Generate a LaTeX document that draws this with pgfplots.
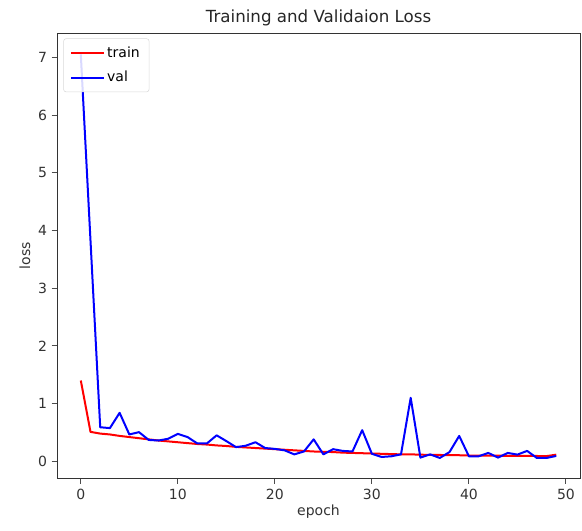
\documentclass[border=0pt]{standalone}
\usepackage{pgfplots}
\pgfplotsset{compat=1.18}
\usepackage{fontspec}
\setmainfont{DejaVu Sans}
\usetikzlibrary{calc}

\pgfplotstableread{
epoch train val
0  1.400 7.050
1  0.510 3.820
2  0.480 0.590
3  0.465 0.575
4  0.440 0.840
5  0.420 0.465
6  0.400 0.505
7  0.380 0.370
8  0.360 0.360
9  0.345 0.390
10 0.330 0.475
11 0.315 0.420
12 0.300 0.310
13 0.290 0.310
14 0.275 0.450
15 0.265 0.350
16 0.250 0.245
17 0.240 0.270
18 0.230 0.330
19 0.220 0.230
20 0.210 0.215
21 0.200 0.190
22 0.190 0.120
23 0.180 0.170
24 0.170 0.380
25 0.165 0.120
26 0.160 0.210
27 0.150 0.180
28 0.145 0.170
29 0.140 0.540
30 0.135 0.130
31 0.130 0.075
32 0.125 0.087
33 0.120 0.120
34 0.120 1.100
35 0.115 0.064
36 0.110 0.120
37 0.110 0.058
38 0.105 0.160
39 0.105 0.440
40 0.100 0.087
41 0.100 0.087
42 0.098 0.145
43 0.097 0.064
44 0.095 0.145
45 0.094 0.116
46 0.093 0.180
47 0.092 0.058
48 0.090 0.058
49 0.115 0.093
}\losstable

\begin{document}
\begin{tikzpicture}
\begin{axis}[
    scale only axis,
    width=392pt,
    height=334pt,
    xmin=-2.45, xmax=51.45,
    ymin=-0.3, ymax=7.42,
    xtick={0,10,20,30,40,50},
    ytick={0,1,2,3,4,5,6,7},
    tick align=outside,
    tick pos=left,
    major tick length=4pt,
    tick style={black!70, line width=0.7pt},
    axis line style={black!80, line width=0.7pt},
    tick label style={font=\fontsize{10.5}{12}\selectfont, text=black!80},
    label style={font=\fontsize{10.5}{12}\selectfont, text=black!80},
    /pgf/number format/assume math mode=true,
    title={Training and Validaion Loss},
    title style={font=\fontsize{12.5}{14}\selectfont, text=black!85, yshift=-4pt},
    xlabel={epoch},
    ylabel={loss},
    xlabel style={yshift=3pt},
    ylabel style={yshift=-1pt},
    legend style={font=\fontsize{10.5}{12}\selectfont, draw=black!15, rounded corners=2pt,
        fill=white, fill opacity=0.85, text opacity=1, at={(0.012,0.988)}, anchor=north west,
        inner xsep=5pt, inner ysep=4pt, row sep=5pt},
    legend cell align=left,
    legend image post style={line width=1.5pt},
    legend image code/.code={\draw[#1] (0cm,0cm) -- (0.85cm,0cm);},
    every axis plot/.append style={line width=1.5pt, line join=round},
]
\addplot[red, no markers] table[x=epoch, y=train] {\losstable};
\addlegendentry{train}
\addplot[blue, no markers] table[x=epoch, y=val] {\losstable};
\addlegendentry{val}
\end{axis}
\pgfresetboundingbox
\path[use as bounding box] ($(current axis.south west)+(-42.75pt,-39pt)$) rectangle ($(current axis.north east)+(1.5pt,24.75pt)$);
\end{tikzpicture}
\end{document}
